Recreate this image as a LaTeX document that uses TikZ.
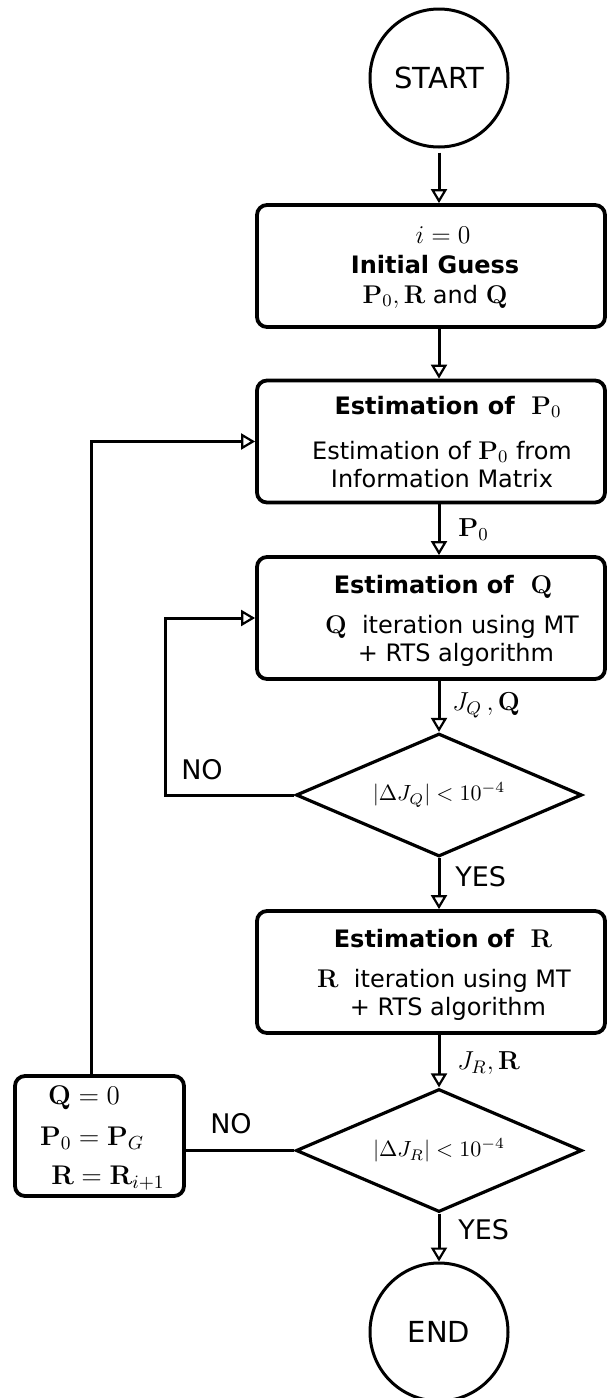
\RequirePackage{fix-cm}
\documentclass[tikz,border=0pt]{standalone}
\usepackage[no-math]{fontspec}
\setmainfont{DejaVu Sans}
\usetikzlibrary{shapes.geometric,arrows.meta}
\newcommand{\setfs}[1]{\fontsize{#1}{#1}\selectfont}
% formulas inside the process boxes run a little larger than the words
\DeclareMathSizes{12}{12.8}{8.8}{6.5}
\begin{document}
\begin{tikzpicture}[x=0.5pt,y=-0.5pt,
  term/.style={circle,draw,line width=1.5pt,minimum size=69pt,inner sep=0pt,font=\setfs{14.5pt}},
  stepbox/.style={rectangle,draw,line width=1.9pt,rounded corners=5pt,minimum width=174pt,minimum height=61pt,inner sep=0pt},
  test/.style={diamond,draw,line width=1.6pt,minimum width=143pt,minimum height=61.5pt,inner sep=0pt,aspect=2.33,font=\setfs{11pt}},
  boxtext/.style={anchor=base,inner sep=0pt,font=\setfs{12pt}},
  flow/.style={line width=1.5pt,-{Triangle[open,length=7pt,width=8pt,line width=1.1pt]}},
  link/.style={line width=1.5pt},
  tag/.style={anchor=west,inner sep=0pt,font=\setfs{13pt}},
  word/.style={inner sep=0pt,font=\setfs{13.5pt}}]
\useasboundingbox (0,0) rectangle (608,1398);

% main column
\node[term] (start) at (439,78) {START};
\node[stepbox] (init) at (431,266) {};
\node[stepbox] (p0est) at (431,441.5) {};
\node[stepbox] (qest) at (431,618) {};
\node[test] (qtest) at (439,795) {$|\Delta J_Q| < 10^{-4}$};
\node[stepbox] (rest) at (431,972) {};
\node[test] (rtest) at (439,1150.5) {$|\Delta J_R| < 10^{-4}$};
\node[term] (stop) at (439,1332) {END};
\node[stepbox,minimum width=84.5pt,minimum height=60pt] (reset) at (99.5,1136) {};

% box contents
\node[boxtext] (initA) at (443,243) {$i=0$};
\node[boxtext] (initB) at (435,273) {\bfseries Initial Guess};
\node[boxtext] (initC) at (435,303) {$\mathbf{P}_0, \mathbf{R}$ and $\mathbf{Q}$};
\node[boxtext] (p0A) at (448,414) {\bfseries Estimation of~ $\mathbf{P}_0$};
\node[boxtext] (p0B) at (442,459) {Estimation of $\mathbf{P}_0$ from};
\node[boxtext] (p0C) at (442,487) {Information Matrix};
\node[boxtext] (qA) at (443,593) {\bfseries Estimation of~ $\mathbf{Q}$};
\node[boxtext] (qB) at (452,633) {$\mathbf{Q}$~ iteration using MT};
\node[boxtext] (qC) at (456,661) {+ RTS algorithm};
\node[boxtext] (rA) at (443,947) {\bfseries Estimation of~ $\mathbf{R}$};
\node[boxtext] (rB) at (444,987) {$\mathbf{R}$~ iteration using MT};
\node[boxtext] (rC) at (448,1015) {+ RTS algorithm};
\node[boxtext,font=\setfs{13.5pt}] (resetA) at (84,1104) {$\mathbf{Q}=0$};
\node[boxtext,font=\setfs{13.5pt}] (resetB) at (92,1145) {$\mathbf{P}_0=\mathbf{P}_G$};
\node[boxtext,font=\setfs{13.5pt}] (resetC) at (108,1184) {$\mathbf{R}=\mathbf{R}_{i+1}$};

% connector labels
\node[tag] (lp0) at (458,530) {$\mathbf{P}_0$};
\node[tag] (ljq) at (452,705) {$J_Q\,,\mathbf{Q}$};
\node[tag] (ljr) at (457,1063) {$J_R, \mathbf{R}$};
\node[word,anchor=west] (yes1) at (455,877) {YES};
\node[word,anchor=west] (yes2) at (458,1230) {YES};
\node[word] (no1) at (202,770) {NO};
\node[word] (no2) at (231,1124) {NO};

% connectors
\draw[flow,shorten <=2pt] (start) -- (start |- init.north);
\draw[flow] (init.south -| start) -- (p0est.north -| start);
\draw[flow] (p0est.south -| start) -- (qest.north -| start);
\draw[flow] (qest.south -| start) -- (qtest.north);
\draw[flow] (qtest.south) -- (rest.north -| qtest);
\draw[flow] (rest.south -| qtest) -- (rtest.north);
\draw[flow] (rtest.south) -- (stop.north);

% feedback loops
\coordinate (qback) at (165,618);
\draw[flow] (qtest.west) -| (qback) -- (qest.west);
\draw[link] (rtest.west) -- (rtest.west -| reset.east);
\coordinate (pback) at (91,441.5);
\draw[flow] (reset.north -| pback) -- (pback) -- (p0est.west);
\end{tikzpicture}
\end{document}
